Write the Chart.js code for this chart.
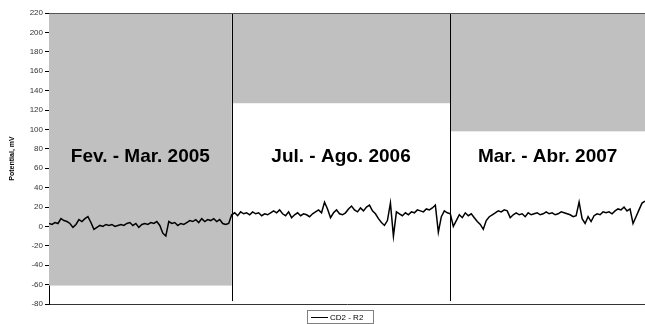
<!DOCTYPE html>
<html>
<head>
<meta charset="utf-8">
<script src="https://cdn.jsdelivr.net/npm/chart.js@4"></script>
<style>
  html, body { margin: 0; padding: 0; background: #fff; }
  #wrap { width: 645px; height: 324px; }
</style>
</head>
<body>
<div id="wrap"><canvas id="chart" width="645" height="324"></canvas></div>
<script>
// campaign periods and readings (mV)
const periodNames = ['Fev. - Mar. 2005', 'Jul. - Ago. 2006', 'Mar. - Abr. 2007'];
const bandLimits = [-61, 127, 98];   // grey band goes from top of axis down to this value
const period1 = [3, 2, 4, 3, 8, 6, 5, 3, -1, 2, 7, 5, 8, 10, 4, -3, -1, 1, 0, 2,
    1, 2, 0, 1, 2, 1, 3, 4, 1, 3, -1, 2, 3, 2, 4, 3, 5, 1, -7, -10,
    5, 3, 4, 1, 3, 2, 4, 6, 5, 7, 4, 8, 5, 7, 6, 8, 5, 7, 3, 2, 3];
const period2 = [12, 14, 11, 15, 13, 14, 12, 15, 13, 14, 11, 13, 12, 14, 16, 14, 17, 13, 11, 15,
    9, 12, 14, 11, 13, 12, 10, 13, 15, 17, 14, 25, 18, 9, 14, 17, 13, 12, 14, 18,
    21, 17, 15, 19, 16, 20, 22, 16, 13, 8, 4, 1, 6, 24, -10, 15, 13, 11, 14, 12,
    15, 14, 17, 16, 15, 18, 17, 19, 22, -6, 10, 16, 14];
const period3 = [13, 0, 6, 12, 9, 14, 11, 13, 9, 5, 2, -3, 6, 10, 12, 14, 16, 15, 17, 16,
    9, 12, 14, 12, 13, 10, 14, 12, 13, 14, 12, 13, 15, 13, 14, 12, 13, 15, 14, 13,
    12, 10, 11, 25, 8, 3, 10, 5, 11, 13, 12, 15, 14, 15, 13, 16, 18, 17, 20, 16,
    18, 3, 10, 17, 24, 26];
const yTicks = [-80, -60, -40, -20, 0, 20, 40, 60, 80, 100, 120, 140, 160, 180, 200, 220];

const periods = [period1, period2, period3];
const values = period1.concat(period2, period3);
const points = values.map((v, i) => ({ x: i, y: v }));

// start index of each period on the x scale
const starts = [];
let acc = 0;
periods.forEach(p => { starts.push(acc); acc += p.length; });
const lastIndex = values.length - 1;

const bandsPlugin = {
    id: 'bands',
    beforeDatasetsDraw(chart) {
        const ctx = chart.ctx;
        const xs = chart.scales.x, ys = chart.scales.y;
        const area = chart.chartArea;
        ctx.save();
        periods.forEach((p, k) => {
            const x0 = k === 0 ? area.left : xs.getPixelForValue(starts[k]);
            const x1 = k === periods.length - 1 ? area.right : xs.getPixelForValue(starts[k + 1]);
            const yb = ys.getPixelForValue(bandLimits[k]);
            ctx.fillStyle = '#c0c0c0';
            ctx.fillRect(x0, area.top, x1 - x0, yb - area.top);
        });
        // separators between campaigns
        ctx.strokeStyle = '#000';
        ctx.lineWidth = 1;
        for (let k = 1; k < periods.length; k++) {
            const x = Math.round(xs.getPixelForValue(starts[k])) + 0.5;
            ctx.beginPath();
            ctx.moveTo(x, area.top);
            ctx.lineTo(x, ys.getPixelForValue(-77));
            ctx.stroke();
        }
        // top border of the plot
        ctx.strokeStyle = '#555';
        ctx.beginPath();
        ctx.moveTo(area.left, Math.round(area.top) + 0.5);
        ctx.lineTo(area.right, Math.round(area.top) + 0.5);
        ctx.stroke();
        // period labels
        ctx.fillStyle = '#000';
        ctx.font = 'bold 19px Arial, "Liberation Sans", sans-serif';
        ctx.textAlign = 'center';
        ctx.textBaseline = 'middle';
        periods.forEach((p, k) => {
            const x0 = k === 0 ? area.left : xs.getPixelForValue(starts[k]);
            const x1 = k === periods.length - 1 ? area.right : xs.getPixelForValue(starts[k + 1]);
            ctx.fillText(periodNames[k], (x0 + x1) / 2, ys.getPixelForValue(72));
        });
        ctx.restore();
    },
    afterDraw(chart) {
        // boxed legend under the axis
        const ctx = chart.ctx;
        const ds = chart.data.datasets[0];
        ctx.save();
        ctx.strokeStyle = '#808080';
        ctx.lineWidth = 1;
        ctx.strokeRect(307.5, 310.5, 66, 13);
        ctx.strokeStyle = '#000';
        ctx.beginPath();
        ctx.moveTo(311, 317.5);
        ctx.lineTo(328, 317.5);
        ctx.stroke();
        ctx.fillStyle = '#000';
        ctx.font = '8px Arial, "Liberation Sans", sans-serif';
        ctx.textAlign = 'left';
        ctx.textBaseline = 'middle';
        ctx.fillText(ds.label, 330, 317.5);
        ctx.restore();
    }
};

const ctx = document.getElementById('chart');
new Chart(ctx, {
    type: 'line',
    data: {
        datasets: [{
            label: 'CD2 - R2',
            data: points,
            borderColor: '#000',
            borderWidth: 1.5,
            pointRadius: 0,
            tension: 0,
            fill: false
        }]
    },
    options: {
        responsive: false,
        animation: false,
        events: [],
        layout: { padding: { top: 13, right: 0, bottom: 20, left: 0 } },
        plugins: {
            legend: { display: false },
            tooltip: { enabled: false }
        },
        scales: {
            x: {
                type: 'linear',
                min: 0,
                max: lastIndex,
                ticks: { display: false },
                grid: { display: false },
                border: { display: true, color: '#333', width: 1 },
                afterFit(scale) { scale.height = 0; }
            },
            y: {
                min: -80,
                max: 220,
                afterBuildTicks(scale) { scale.ticks = yTicks.map(v => ({ value: v })); },
                ticks: {
                    color: '#333',
                    padding: 2,
                    font: { family: 'Arial, "Liberation Sans", sans-serif', size: 8 }
                },
                grid: {
                    display: true,
                    drawOnChartArea: false,
                    drawTicks: true,
                    tickLength: 4,
                    color: '#000'
                },
                border: { display: true, color: '#000', width: 1 },
                title: {
                    display: true,
                    text: 'Potential, mV',
                    color: '#000',
                    padding: { top: 8, bottom: 0 },
                    font: { family: 'Arial, "Liberation Sans", sans-serif', size: 7, weight: 'bold' }
                },
                afterFit(scale) { scale.width = 49; }
            }
        }
    },
    plugins: [bandsPlugin]
});
</script>
</body>
</html>
